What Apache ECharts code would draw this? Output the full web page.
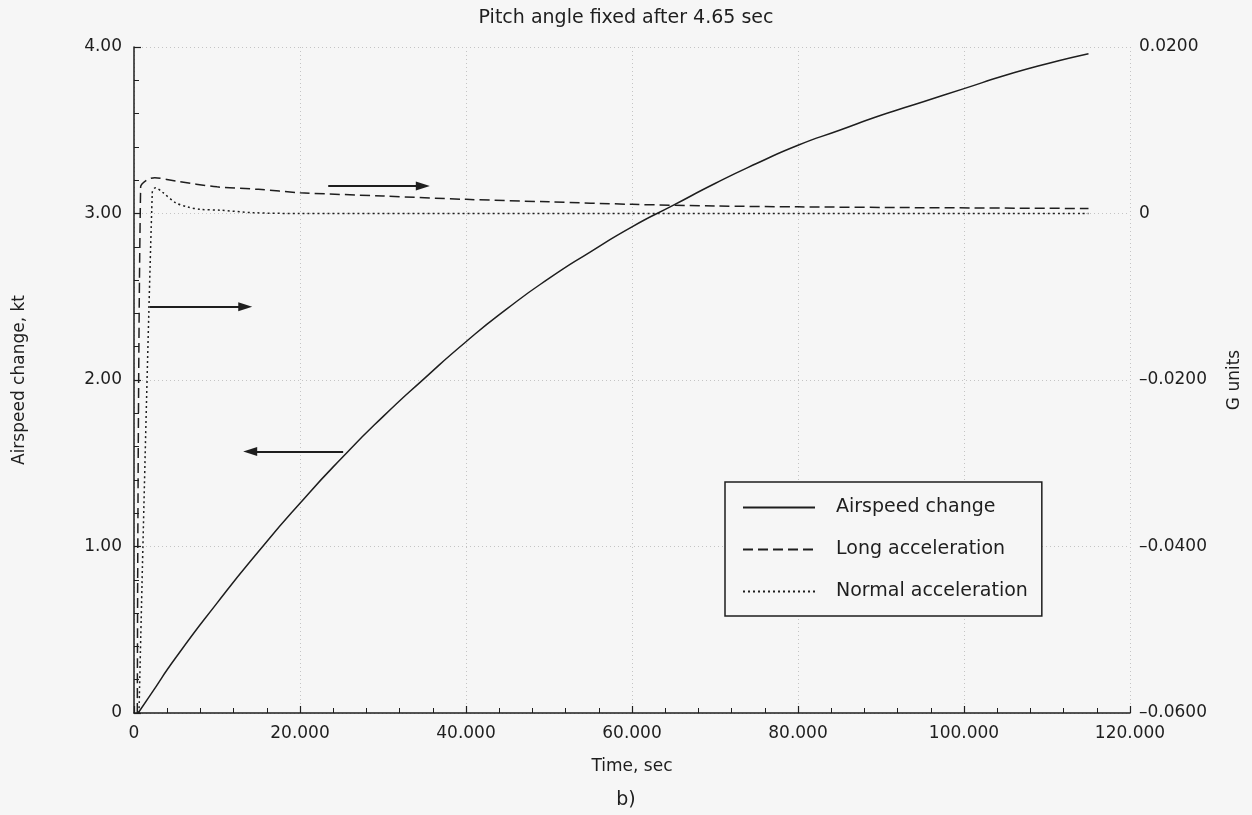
<!DOCTYPE html>
<html>
<head>
<meta charset="utf-8">
<title>Pitch angle fixed after 4.65 sec</title>
<script src="https://cdn.jsdelivr.net/npm/echarts@6/dist/echarts.min.js"></script>
<style>
  html, body { margin: 0; padding: 0; background: #f6f6f6; }
  #chart { width: 1252px; height: 815px; }
</style>
</head>
<body>
<div id="chart"></div>
<script>
// Airspeed change (kt) vs time (sec), left axis
const airspeedTime = [500, 2000, 5000, 10000, 15000, 20000, 25000, 30000, 35000, 40000, 45000, 50000,
  55000, 60000, 65000, 70000, 75000, 80000, 85000, 90000, 95000, 100000, 105000, 110000, 115000];
const airspeedKt = [0, 0.11, 0.33, 0.66, 0.97, 1.26, 1.53, 1.78, 2.01, 2.23, 2.43, 2.61,
  2.77, 2.92, 3.05, 3.18, 3.30, 3.41, 3.50, 3.59, 3.67, 3.75, 3.83, 3.90, 3.96];

// Longitudinal acceleration (G), right axis
const longTime = [400, 800, 1500, 2500, 5000, 10000, 15000, 20000, 30000, 40000, 50000, 60000,
  70000, 80000, 95000, 115000];
const longG = [-0.06, 0.0032, 0.0040, 0.0043, 0.0039, 0.0032, 0.0029, 0.0025, 0.0021, 0.0017, 0.0014, 0.0011,
  0.0009, 0.0008, 0.0007, 0.0006];

// Normal acceleration (G), right axis
const normalTime = [600, 2200, 2600, 3500, 5000, 6400, 8000, 10400, 14300, 20000, 115000];
const normalG = [-0.06, 0.0025, 0.0031, 0.0025, 0.0013, 0.0008, 0.0005, 0.0004, 0.0001, 0, 0];

// Direction arrows showing which axis each curve belongs to: [time, level in kt]
const arrowFrom = [[1900, 2.44], [25200, 1.57], [23400, 3.165]];
const arrowTo = [[13400, 2.44], [14000, 1.57], [34800, 3.165]];

// Axis ticks
const xTicks = [0, 20000, 40000, 60000, 80000, 100000, 120000];
const leftTicks = [0, 1, 2, 3, 4];
const rightTicks = [-0.06, -0.04, -0.02, 0, 0.02];

const zip = (xs, ys) => xs.map((x, i) => [x, ys[i]]);
const ink = '#1e1e1e';
const font = '"DejaVu Sans", "Liberation Sans", Arial, sans-serif';
const gridLine = { show: true, lineStyle: { color: '#c4c4c4', type: [1, 3], width: 1 } };

const chart = echarts.init(document.getElementById('chart'), null, { renderer: 'canvas' });

chart.setOption({
  backgroundColor: '#f6f6f6',
  animation: false,
  textStyle: { fontFamily: font, color: ink },
  title: [
    { text: 'Pitch angle fixed after 4.65 sec', left: 'center', top: 4,
      textStyle: { fontSize: 19, fontWeight: 'normal', color: ink, fontFamily: font } },
    { text: 'b)', left: 'center', top: 786,
      textStyle: { fontSize: 19, fontWeight: 'normal', color: ink, fontFamily: font } }
  ],
  grid: { left: 134, right: 122, top: 47, bottom: 102 },
  legend: {
    orient: 'vertical',
    left: 725, top: 482,
    padding: [16, 14, 15, 17],
    itemGap: 23,
    itemWidth: 72,
    itemHeight: 18,
    backgroundColor: '#f6f6f6',
    borderColor: ink,
    borderWidth: 1.5,
    borderRadius: 0,
    itemStyle: { opacity: 0, color: 'transparent', borderWidth: 0 },
    textStyle: { fontSize: 19, color: ink, fontFamily: font, padding: [0, 0, 0, 16] },
    data: ['Airspeed change', 'Long acceleration', 'Normal acceleration']
  },
  xAxis: {
    type: 'value',
    min: xTicks[0], max: xTicks[xTicks.length - 1], interval: 20000,
    name: 'Time, sec', nameLocation: 'middle', nameGap: 45,
    nameTextStyle: { fontSize: 17, color: ink, fontFamily: font },
    axisLine: { show: true, lineStyle: { color: ink, width: 1.5 } },
    axisTick: { show: true, inside: true, length: 7, lineStyle: { color: ink, width: 1.2 } },
    minorTick: { show: true, splitNumber: 5, length: 5, lineStyle: { color: ink, width: 1 } },
    axisLabel: { fontSize: 17, color: ink, margin: 12, fontFamily: font,
      formatter: v => v === 0 ? '0' : (v / 1000).toFixed(3) },
    splitLine: gridLine
  },
  yAxis: [
    {
      type: 'value', position: 'left',
      min: leftTicks[0], max: leftTicks[leftTicks.length - 1], interval: 1,
      name: 'Airspeed change, kt', nameLocation: 'middle', nameGap: 106, nameRotate: 90,
      nameTextStyle: { fontSize: 17, color: ink, fontFamily: font },
      axisLine: { show: true, lineStyle: { color: ink, width: 1.5 } },
      axisTick: { show: true, inside: true, length: 7, lineStyle: { color: ink, width: 1.2 } },
      minorTick: { show: true, splitNumber: 5, length: 5, lineStyle: { color: ink, width: 1 } },
      axisLabel: { fontSize: 17, color: ink, margin: 12, fontFamily: font,
        formatter: v => v === 0 ? '0' : v.toFixed(2) },
      splitLine: gridLine
    },
    {
      type: 'value', position: 'right',
      min: rightTicks[0], max: rightTicks[rightTicks.length - 1], interval: 0.02,
      name: 'G units', nameLocation: 'middle', nameGap: 96, nameRotate: 90,
      nameTextStyle: { fontSize: 17, color: ink, fontFamily: font },
      axisLine: { show: false },
      axisTick: { show: false },
      axisLabel: { fontSize: 17, color: ink, margin: 9, fontFamily: font,
        formatter: v => Math.abs(v) < 1e-9 ? '0' : (v < 0 ? '\u2013' + Math.abs(v).toFixed(4) : v.toFixed(4)) },
      splitLine: { show: false }
    }
  ],
  series: [
    {
      name: 'Airspeed change', type: 'line', yAxisIndex: 0,
      data: zip(airspeedTime, airspeedKt),
      smooth: 0.6, symbol: 'none',
      lineStyle: { color: ink, width: 1.5, type: 'solid' },
      itemStyle: { color: ink },
      markLine: {
        silent: true, symbol: ['none', 'triangle'], symbolSize: [9, 14],
        label: { show: false },
        lineStyle: { color: ink, width: 1.8, type: 'solid' },
        data: arrowFrom.map((p, i) => [{ coord: p }, { coord: arrowTo[i] }])
      },
      z: 3
    },
    {
      name: 'Long acceleration', type: 'line', yAxisIndex: 1,
      data: zip(longTime, longG),
      smooth: 0.3, symbol: 'none',
      lineStyle: { color: ink, width: 1.5, type: [10, 5] },
      itemStyle: { color: ink },
      z: 3
    },
    {
      name: 'Normal acceleration', type: 'line', yAxisIndex: 1,
      data: zip(normalTime, normalG),
      smooth: 0.3, symbol: 'none',
      lineStyle: { color: ink, width: 1.5, type: [2, 3] },
      itemStyle: { color: ink },
      z: 3
    }
  ]
});
</script>
</body>
</html>
